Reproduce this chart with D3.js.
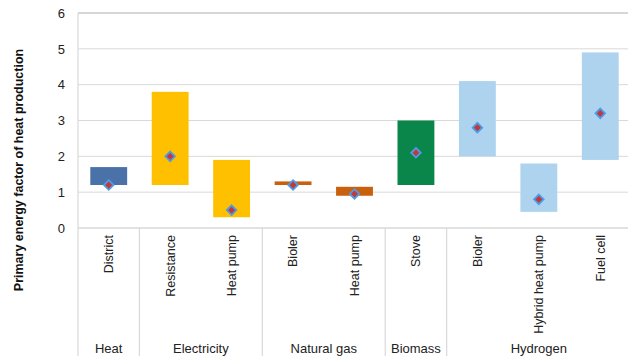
<!DOCTYPE html>
<html>
<head>
<meta charset="utf-8">
<script src="https://cdn.jsdelivr.net/npm/d3@7"></script>
<style>
  html, body { margin: 0; padding: 0; background: #fff; overflow: hidden; }
  svg { display: block; font-family: "Liberation Sans", Arial, sans-serif; }
</style>
</head>
<body>
<svg id="chart" width="628" height="356"></svg>
<script>
// Primary energy factor ranges of heating technologies, with typical values
const categories = ["District", "Resistance", "Heat pump", "Bioler", "Heat pump", "Stove", "Bioler", "Hybrid heat pump", "Fuel cell"];
const groups = ["Heat", "Electricity", "Electricity", "Natural gas", "Natural gas", "Biomass", "Hydrogen", "Hydrogen", "Hydrogen"];
const rangeLow  = [1.2, 1.2, 0.3, 1.2, 0.9, 1.2, 2.0, 0.45, 1.9];
const rangeHigh = [1.7, 3.8, 1.9, 1.3, 1.15, 3.0, 4.1, 1.8, 4.9];
const typical   = [1.2, 2.0, 0.5, 1.2, 0.95, 2.1, 2.8, 0.8, 3.2];
const groupColors = { "Heat": "#4a72a9", "Electricity": "#ffc000", "Natural gas": "#c9600d", "Biomass": "#0a864a", "Hydrogen": "#aed3ef" };
const yTicks = [0, 1, 2, 3, 4, 5, 6];
const yTitle = "Primary energy factor of heat production";

const svg = d3.select("#chart");
const margin = { left: 78, top: 13, right: 631, bottom: 228 };

const x = d3.scaleBand()
  .domain(d3.range(categories.length))
  .range([margin.left, margin.right])
  .paddingInner(0.4)
  .paddingOuter(0.2);
const step = x.step();
const y = d3.scaleLinear().domain([0, 6]).range([margin.bottom, margin.top]);

// horizontal gridlines
svg.append("g")
  .selectAll("line")
  .data(yTicks)
  .join("line")
  .attr("x1", margin.left).attr("x2", margin.right)
  .attr("y1", d => y(d)).attr("y2", d => y(d))
  .attr("stroke", d => d === 6 ? "#c8c8c8" : "#d9d9d9")
  .attr("stroke-width", d => (d === 6 || d === 0) ? 1.5 : 1);

// left axis line
svg.append("line")
  .attr("x1", margin.left).attr("x2", margin.left)
  .attr("y1", margin.top).attr("y2", 356)
  .attr("stroke", "#d9d9d9").attr("stroke-width", 1.2);

// y tick labels
const yAxis = d3.axisLeft(y).tickValues(yTicks).tickSize(0).tickPadding(13).tickFormat(d3.format("d"));
const ya = svg.append("g").attr("transform", `translate(${margin.left},0)`).call(yAxis);
ya.select(".domain").remove();
ya.selectAll("text").attr("font-size", 13).attr("fill", "#222").attr("font-family", "Liberation Sans, Arial, sans-serif");

// group dividers below the axis
const groupSpans = [];
groups.forEach((g, i) => {
  const last = groupSpans[groupSpans.length - 1];
  if (last && last.name === g) last.end = i;
  else groupSpans.push({ name: g, start: i, end: i });
});
svg.append("g")
  .selectAll("line")
  .data(groupSpans.slice(1))
  .join("line")
  .attr("x1", d => margin.left + d.start * step).attr("x2", d => margin.left + d.start * step)
  .attr("y1", margin.bottom).attr("y2", 356)
  .attr("stroke", "#d9d9d9").attr("stroke-width", 1.2);

// range bars
svg.append("g")
  .selectAll("rect")
  .data(categories.map((c, i) => i))
  .join("rect")
  .attr("x", i => x(i))
  .attr("width", x.bandwidth())
  .attr("y", i => y(rangeHigh[i]))
  .attr("height", i => y(rangeLow[i]) - y(rangeHigh[i]))
  .attr("fill", i => groupColors[groups[i]]);

// typical-value markers
const diamond = d3.symbol().type(d3.symbolDiamond2).size(58);
svg.append("g")
  .selectAll("path")
  .data(typical)
  .join("path")
  .attr("d", diamond)
  .attr("transform", (d, i) => `translate(${x(i) + x.bandwidth() / 2},${y(d)})`)
  .attr("fill", "#c0393b")
  .attr("stroke", "#4e9be6")
  .attr("stroke-width", 1.8);

// category labels (rotated)
svg.append("g")
  .selectAll("text")
  .data(categories)
  .join("text")
  .attr("transform", (d, i) => `translate(${x(i) + x.bandwidth() / 2},235) rotate(-90)`)
  .attr("text-anchor", "end")
  .attr("dy", "0.35em")
  .attr("font-size", 12.5)
  .attr("fill", "#222")
  .text(d => d);

// group labels along the bottom edge
svg.append("g")
  .selectAll("text")
  .data(groupSpans)
  .join("text")
  .attr("x", d => margin.left + (d.start + d.end + 1) / 2 * step)
  .attr("y", 353)
  .attr("text-anchor", "middle")
  .attr("font-size", 13)
  .attr("fill", "#222")
  .text(d => d.name);

// y-axis title
svg.append("text")
  .attr("transform", "translate(23,170) rotate(-90)")
  .attr("text-anchor", "middle")
  .attr("font-size", 12.5)
  .attr("font-weight", "bold")
  .attr("fill", "#111")
  .text(yTitle);
</script>
</body>
</html>
